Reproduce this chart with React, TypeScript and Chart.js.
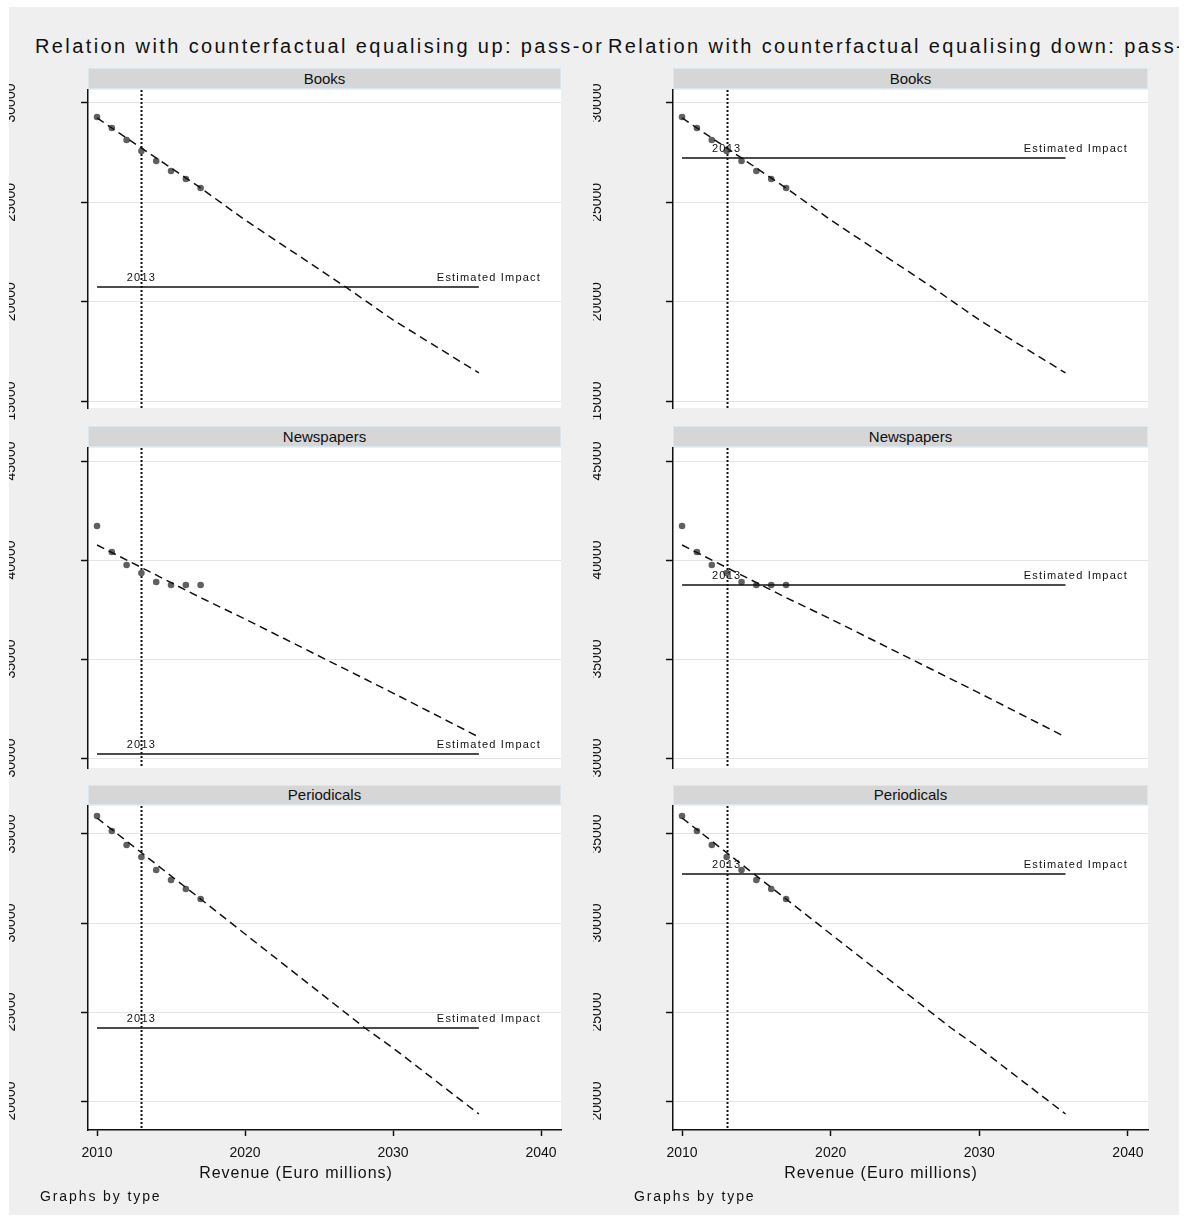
import React, { useEffect, useRef } from "react";
import { Chart, registerables } from "chart.js";

Chart.register(...registerables);

// ---------------- data ----------------
const TITLES = [
  "Relation with counterfactual equalising up: pass-or",
  "Relation with counterfactual equalising down: pass-on",
];
const TYPES = ["Books", "Newspapers", "Periodicals"];
const ACTUAL_YEARS = [2010, 2011, 2012, 2013, 2014, 2015, 2016, 2017];
const BOOKS_ACTUAL = [29295, 28742, 28138, 27584, 27081, 26578, 26175, 25722];
const NEWS_ACTUAL = [41717, 40404, 39747, 39343, 38889, 38737, 38737, 38737];
const PERIOD_ACTUAL = [36011, 35169, 34382, 33708, 32978, 32416, 31910, 31348];

const BOOKS_PROJ_YEARS = [2010, 2017, 2020, 2026.8, 2030, 2035.8];
const BOOKS_PROJ = [29245, 25722, 24112, 20740, 19080, 16412];
const NEWS_PROJ_YEARS = [2010, 2017, 2020, 2030, 2035.8];
const NEWS_PROJ = [40758, 38100, 37020, 33280, 31060];
const PERIOD_PROJ_YEARS = [2010, 2017, 2020, 2028.1, 2030, 2035.8];
const PERIOD_PROJ = [35899, 31348, 29382, 24101, 22978, 19270];

const IMPACT_UP = [20740, 30202, 24101];
const IMPACT_DOWN = [27232, 38737, 32753];
const IMPACT_YEARS = [2010, 2035.8];
const POLICY_YEAR = 2013;
const IMPACT_LABEL = "Estimated Impact";

const BOOKS_TICKS = [15000, 20000, 25000, 30000];
const NEWS_TICKS = [30000, 35000, 40000, 45000];
const PERIOD_TICKS = [20000, 25000, 30000, 35000];
const Y_RANGES = [
  [14648, 30654],
  [29495, 45657],
  [18371, 36573],
];
const X_TICKS = [2010, 2020, 2030, 2040];
const X_RANGE = [2009.39, 2041.35];
const X_TITLE = "Revenue (Euro millions)";
const NOTE = "Graphs by type";

const ACTUALS = [BOOKS_ACTUAL, NEWS_ACTUAL, PERIOD_ACTUAL];
const PROJ_YEARS = [BOOKS_PROJ_YEARS, NEWS_PROJ_YEARS, PERIOD_PROJ_YEARS];
const PROJS = [BOOKS_PROJ, NEWS_PROJ, PERIOD_PROJ];
const Y_TICKS = [BOOKS_TICKS, NEWS_TICKS, PERIOD_TICKS];

// ---------------- layout ----------------
const FONT = '"Liberation Sans", Arial, sans-serif';
const COLS = [
  { canvasLeft: 9, canvasWidth: 584, plotLeft: 88, plotRight: 561, labelX: 6 },
  { canvasLeft: 593, canvasWidth: 586, plotLeft: 673, plotRight: 1148, labelX: 8 },
];
const ROWS = [
  { canvasTop: 60, canvasHeight: 370, plotTop: 90, plotBottom: 408, headTop: 68 },
  { canvasTop: 420, canvasHeight: 370, plotTop: 448, plotBottom: 768, headTop: 426 },
  { canvasTop: 780, canvasHeight: 390, plotTop: 806, plotBottom: 1130, headTop: 785 },
];

const decorPlugin = {
  id: "decor",
  beforeDraw(chart: any) {
    const { ctx, chartArea: a } = chart;
    ctx.save();
    ctx.fillStyle = "#ffffff";
    ctx.fillRect(a.left, a.top, a.right - a.left, a.bottom - a.top);
    ctx.restore();
  },
  beforeDatasetsDraw(chart: any, _a: any, opts: any) {
    const { ctx, chartArea: a } = chart;
    const x = Math.round(chart.scales.x.getPixelForValue(opts.policyYear)) + 0.5;
    ctx.save();
    ctx.strokeStyle = "#111";
    ctx.lineWidth = 2;
    ctx.setLineDash([2, 2]);
    ctx.beginPath();
    ctx.moveTo(x, a.top);
    ctx.lineTo(x, a.bottom);
    ctx.stroke();
    ctx.restore();
  },
  afterDraw(chart: any, _a: any, opts: any) {
    const { ctx } = chart;
    const xs = chart.scales.x;
    const ys = chart.scales.y;
    const yImp = ys.getPixelForValue(opts.impact);
    ctx.save();
    ctx.fillStyle = "#111";
    ctx.font = `11px ${FONT}`;
    (ctx as any).letterSpacing = "1.2px";
    ctx.textBaseline = "alphabetic";
    ctx.textAlign = "center";
    ctx.fillText(String(opts.policyYear), xs.getPixelForValue(opts.policyYear), yImp - 6);
    ctx.textAlign = "right";
    ctx.fillText(IMPACT_LABEL, xs.getPixelForValue(X_TICKS[X_TICKS.length - 1]), yImp - 6);
    ctx.restore();

    ctx.save();
    ctx.fillStyle = "#111";
    ctx.font = `14px ${FONT}`;
    ctx.textAlign = "center";
    ctx.textBaseline = "alphabetic";
    for (const v of opts.yTicks) {
      const y = ys.getPixelForValue(v);
      ctx.save();
      ctx.translate(opts.labelX, y);
      ctx.rotate(-Math.PI / 2);
      ctx.fillText(String(v), 0, 0);
      ctx.restore();
    }
    ctx.restore();
  },
};

function Panel({ row, col }: { row: number; col: number }) {
  const ref = useRef<HTMLCanvasElement>(null);
  const C = COLS[col];
  const R = ROWS[row];
  const isBottom = row === ROWS.length - 1;
  useEffect(() => {
    if (!ref.current) return;
    const yAxisW = C.plotLeft - C.canvasLeft;
    const rightPad = C.canvasLeft + C.canvasWidth - C.plotRight;
    const topPad = R.plotTop - R.canvasTop;
    const bottomSpace = R.canvasTop + R.canvasHeight - R.plotBottom;
    const impact = col === 0 ? IMPACT_UP[row] : IMPACT_DOWN[row];
    const chart = new Chart(ref.current, {
      type: "scatter",
      data: {
        datasets: [
          {
            data: IMPACT_YEARS.map((x) => ({ x, y: impact })),
            showLine: true,
            borderColor: "#111",
            borderWidth: 1.6,
            pointRadius: 0,
          },
          {
            data: PROJ_YEARS[row].map((x, i) => ({ x, y: PROJS[row][i] })),
            showLine: true,
            borderColor: "#111",
            borderWidth: 1.5,
            borderDash: [8, 5],
            pointRadius: 0,
          },
          {
            data: ACTUAL_YEARS.map((x, i) => ({ x, y: ACTUALS[row][i] })),
            showLine: false,
            pointRadius: 3.3,
            pointBackgroundColor: "#606060",
            pointBorderWidth: 0,
            backgroundColor: "#606060",
          },
        ],
      } as any,
      options: {
        animation: false,
        responsive: false,
        devicePixelRatio: 1,
        events: [],
        layout: {
          padding: { left: 0, right: rightPad, top: topPad, bottom: 0 },
        },
        plugins: {
          legend: { display: false },
          tooltip: { enabled: false },
          decor: {
            policyYear: POLICY_YEAR,
            impact,
            yTicks: Y_TICKS[row],
            labelX: C.labelX,
          },
        } as any,
        scales: {
          x: {
            type: "linear",
            display: isBottom,
            min: X_RANGE[0],
            max: X_RANGE[1],
            afterBuildTicks: (s: any) => {
              s.ticks = X_TICKS.map((v) => ({ value: v }));
            },
            afterFit: (s: any) => {
              s.height = bottomSpace;
            },
            ticks: {
              color: "#111",
              font: { family: FONT, size: 14 },
              padding: 9,
              maxRotation: 0,
              callback: (v: any) => String(v),
            },
            grid: {
              drawOnChartArea: false,
              drawTicks: true,
              tickLength: 6,
              tickColor: "#111",
              tickWidth: 1.5,
            },
            border: { display: true, color: "#111", width: 1.5 },
          },
          y: {
            type: "linear",
            min: Y_RANGES[row][0],
            max: Y_RANGES[row][1],
            afterBuildTicks: (s: any) => {
              s.ticks = Y_TICKS[row].map((v) => ({ value: v }));
            },
            afterFit: (s: any) => {
              s.width = yAxisW;
            },
            ticks: { display: false },
            grid: {
              color: "#e4e4e4",
              lineWidth: 1,
              drawTicks: true,
              tickLength: 7,
              tickColor: "#111",
              tickWidth: 1.5,
            },
            border: { display: true, color: "#111", width: 1.5 },
          },
        },
      } as any,
      plugins: [decorPlugin as any],
    });
    return () => chart.destroy();
  }, [row, col]);
  return (
    <>
      <div
        style={{
          position: "absolute",
          left: C.plotLeft,
          top: R.headTop,
          width: C.plotRight - C.plotLeft - 2,
          height: R.plotTop - R.headTop - 3,
          background: "#d6d6d6",
          border: "1px solid #dbe7ee",
          font: `15px ${FONT}`,
          color: "#111",
          textAlign: "center",
          lineHeight: `${R.plotTop - R.headTop - 3}px`,
        }}
      >
        {TYPES[row]}
      </div>
      <canvas
        ref={ref}
        width={C.canvasWidth}
        height={R.canvasHeight}
        style={{
          position: "absolute",
          left: C.canvasLeft,
          top: R.canvasTop,
          width: C.canvasWidth,
          height: R.canvasHeight,
        }}
      />
    </>
  );
}

export default function App() {
  const titleStyle = (left: number, width: number): React.CSSProperties => ({
    position: "absolute",
    left,
    top: 35,
    width,
    height: 26,
    overflow: "hidden",
    whiteSpace: "nowrap",
    font: `20px ${FONT}`,
    letterSpacing: "2.4px",
    color: "#111",
  });
  return (
    <div style={{ position: "absolute", left: 0, top: 0, width: 1190, height: 1222, background: "#fff" }}>
      <div
        style={{
          position: "absolute",
          left: 9,
          top: 7,
          width: 1170,
          height: 1208,
          background: "#efefef",
        }}
      />
      <div style={titleStyle(35, 573)}>{TITLES[0]}</div>
      <div style={titleStyle(608, 571)}>{TITLES[1]}</div>
      {ROWS.map((_, r) => COLS.map((__, c) => <Panel key={`${r}-${c}`} row={r} col={c} />))}
      {COLS.map((C, c) => (
        <React.Fragment key={c}>
          <div
            style={{
              position: "absolute",
              left: c === 0 ? 146 : 731,
              width: 300,
              top: 1164,
              textAlign: "center",
              font: `16px ${FONT}`,
              letterSpacing: "1px",
              color: "#111",
              whiteSpace: "nowrap",
            }}
          >
            {X_TITLE}
          </div>
          <div
            style={{
              position: "absolute",
              left: c === 0 ? 40 : 634,
              top: 1188,
              font: `14px ${FONT}`,
              letterSpacing: "1.9px",
              color: "#111",
              whiteSpace: "nowrap",
            }}
          >
            {NOTE}
          </div>
        </React.Fragment>
      ))}
    </div>
  );
}
